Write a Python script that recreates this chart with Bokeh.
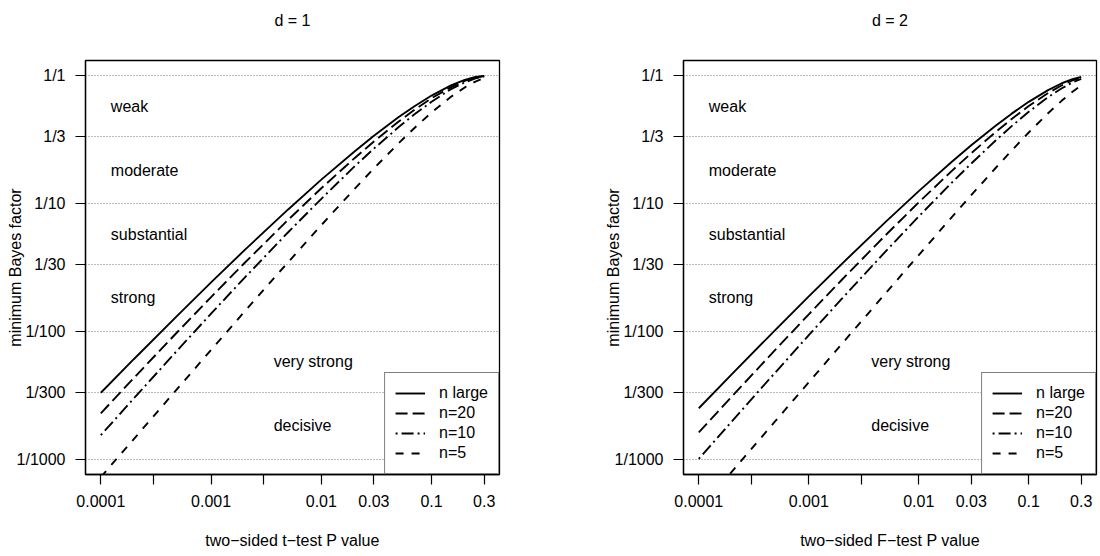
import math
from bokeh.plotting import figure
from bokeh.layouts import row
from bokeh.models import FixedTicker, Legend, LegendItem, Range1d, Title
from bokeh.embed import file_html
from bokeh.resources import INLINE
from bokeh.core.properties import value

# ---------------- data ----------------
p_values = [0.0001, 0.0002, 0.0005, 0.001, 0.002, 0.005, 0.01, 0.02, 0.03,
            0.05, 0.07, 0.1, 0.15, 0.2, 0.25, 0.3]

# d = 1 (t-test)
bf_d1_large = [0.003312, 0.006085, 0.01342, 0.02417, 0.04302, 0.09006, 0.1540,
               0.2562, 0.3396, 0.4734, 0.5786, 0.7011, 0.8421, 0.9295, 0.9787, 0.9987]
bf_d1_n20 = [0.002286, 0.004334, 0.009981, 0.01856, 0.03412, 0.07465, 0.1319,
             0.2268, 0.3063, 0.4371, 0.5426, 0.6680, 0.8166, 0.9122, 0.9690, 0.9958]
bf_d1_n10 = [0.001541, 0.003002, 0.007181, 0.01377, 0.02614, 0.05970, 0.1090,
             0.1954, 0.2694, 0.3954, 0.5000, 0.6268, 0.7870, 0.8888, 0.9550, 0.9902]
bf_d1_n5 = [0.000724, 0.001444, 0.003595, 0.007157, 0.01420, 0.03479, 0.06784,
            0.1302, 0.1886, 0.2955, 0.3910, 0.5165, 0.6853, 0.8116, 0.9019, 0.9608]

# d = 2 (F-test)
bf_d2_large = [0.002504, 0.004630, 0.01033, 0.01878, 0.03379, 0.07201, 0.1252,
               0.2127, 0.2860, 0.4072, 0.5060, 0.6259, 0.7735, 0.8750, 0.9421, 0.9818]
bf_d2_n20 = [0.001618, 0.003095, 0.007226, 0.01360, 0.02536, 0.05671, 0.1023,
             0.1804, 0.2480, 0.3631, 0.4598, 0.5802, 0.7337, 0.8436, 0.9199, 0.9688]
bf_d2_n10 = [0.001006, 0.001979, 0.004804, 0.009337, 0.01802, 0.04229, 0.07935,
             0.1460, 0.2059, 0.3118, 0.4040, 0.5227, 0.6807, 0.7995, 0.8867, 0.9469]
bf_d2_n5 = [0.0004, 0.0008, 0.001999, 0.003996, 0.007984, 0.0199, 0.0396,
            0.0784, 0.1164, 0.19, 0.2604, 0.36, 0.51, 0.64, 0.75, 0.84]

series_names = ["n large", "n=20", "n=10", "n=5"]

x_ticks = [0.0001, 0.0003, 0.001, 0.003, 0.01, 0.03, 0.1, 0.3]
x_tick_labels = ["0.0001", "", "0.001", "", "0.01", "0.03", "0.1", "0.3"]
y_ticks = [1, 1 / 3, 1 / 10, 1 / 30, 1 / 100, 1 / 300, 1 / 1000]
y_tick_labels = ["1/1", "1/3", "1/10", "1/30", "1/100", "1/300", "1/1000"]

region_labels = ["weak", "moderate", "substantial", "strong", "very strong", "decisive"]

# ---------------- styling ----------------
FONT = "Liberation Sans"
FS = "16px"
dashes = ["solid", "12 5", "2 4 12 4", "8 8"]


def padded_log_range(lo, hi, frac=0.04):
    a, b = math.log10(lo), math.log10(hi)
    d = (b - a) * frac
    return 10 ** (a - d), 10 ** (b + d)


x_lo, x_hi = padded_log_range(min(x_ticks), max(x_ticks))
y_lo, y_hi = padded_log_range(min(y_ticks), max(y_ticks))

region_y = [math.sqrt(y_ticks[i] * y_ticks[i + 1]) for i in range(len(y_ticks) - 1)]
region_x = [x_ticks[0]] * 4 + [x_ticks[3]] * 2


def make_panel(title, xlabel, curves, width, border_left, border_right):
    p = figure(width=width, height=554, x_axis_type="log", y_axis_type="log",
               x_range=Range1d(x_lo, x_hi), y_range=Range1d(y_lo, y_hi),
               output_backend="svg", toolbar_location=None,
               min_border_left=border_left, min_border_right=border_right,
               min_border_top=60, min_border_bottom=80)
    p.background_fill_color = "white"
    p.border_fill_color = "white"
    p.outline_line_color = "black"
    p.outline_line_width = 1.3

    # title (outermost) with an empty spacer title between it and the frame
    p.title.text = title
    p.title.align = "center"
    p.title.text_font = FONT
    p.title.text_font_size = FS
    p.title.text_font_style = "normal"
    p.title.text_color = "black"
    p.title.standoff = 0
    p.add_layout(Title(text=" ", text_font=FONT, text_font_size=FS, standoff=13), "above")

    # axes
    p.xaxis.ticker = FixedTicker(ticks=x_ticks, minor_ticks=[])
    p.xaxis.major_label_overrides = {t: l for t, l in zip(x_ticks, x_tick_labels)}
    p.yaxis.ticker = FixedTicker(ticks=y_ticks, minor_ticks=[])
    p.yaxis.major_label_overrides = {t: l for t, l in zip(y_ticks, y_tick_labels)}
    for ax in (p.xaxis[0], p.yaxis[0]):
        ax.major_tick_in = 0
        ax.major_tick_out = 10
        ax.minor_tick_in = 0
        ax.minor_tick_out = 0
        ax.axis_line_color = "black"
        ax.axis_line_width = 1.3
        ax.major_tick_line_color = "black"
        ax.major_tick_line_width = 1.2
        ax.major_label_text_font = FONT
        ax.major_label_text_font_size = FS
        ax.major_label_text_color = "black"
        ax.axis_label_text_font = FONT
        ax.axis_label_text_font_size = FS
        ax.axis_label_text_font_style = "normal"
        ax.axis_label_text_color = "black"
    p.xaxis.axis_label = xlabel
    p.xaxis.major_label_standoff = 10
    p.xaxis.axis_label_standoff = 22
    p.yaxis.axis_label = "minimum Bayes factor"
    p.yaxis.major_label_standoff = 10
    p.yaxis.axis_label_standoff = -10

    # grid
    p.xgrid.visible = False
    p.ygrid.ticker = FixedTicker(ticks=y_ticks, minor_ticks=[])
    p.ygrid.grid_line_color = "#777777"
    p.ygrid.grid_line_dash = "1 2"
    p.ygrid.grid_line_width = 1

    # region labels
    p.text(x=region_x, y=region_y, text=region_labels, x_offset=10,
           text_align="left", text_baseline="middle",
           text_font=value(FONT), text_font_size=value(FS), text_color="black")

    items = []
    for name, ys, dash in zip(series_names, curves, dashes):
        r = p.line(p_values, ys, line_color="black", line_width=1.9, line_dash=dash)
        items.append(LegendItem(label=name, renderers=[r]))

    legend = Legend(items=items, location="bottom_right",
                    border_line_color="black", border_line_width=1.2,
                    background_fill_color="white", background_fill_alpha=1.0,
                    margin=0, padding=10, spacing=0,
                    label_height=20, glyph_height=20, glyph_width=30,
                    label_standoff=14,
                    label_text_font=FONT, label_text_font_size=FS,
                    label_text_color="black")
    p.add_layout(legend)
    return p


left = make_panel("d = 1", "two\u2212sided t\u2212test P value",
                  [bf_d1_large, bf_d1_n20, bf_d1_n10, bf_d1_n5],
                  width=550, border_left=85, border_right=51)
right = make_panel("d = 2", "two\u2212sided F\u2212test P value",
                   [bf_d2_large, bf_d2_n20, bf_d2_n10, bf_d2_n5],
                   width=550, border_left=133, border_right=4)

layout = row(left, right)
open("out.html", "w").write(file_html(layout, INLINE))
